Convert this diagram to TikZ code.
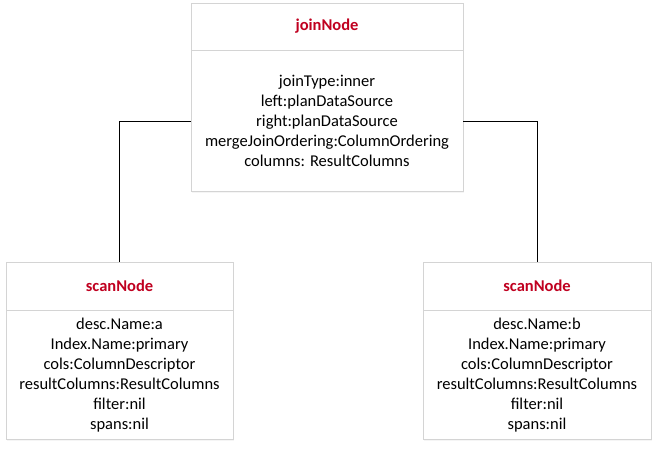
\documentclass[tikz,border=0pt]{standalone}
\usepackage{fontspec}
\setmainfont{Carlito}
\usetikzlibrary{positioning,shadows}
\definecolor{titlered}{HTML}{C00020}
\definecolor{boxgray}{HTML}{D4D4D4}
\tikzset{
  part/.style={draw=boxgray,line width=0.8pt,fill=white,inner sep=0pt,
    drop shadow={shadow xshift=0.8pt,shadow yshift=-1.2pt,fill=black!8},
    font=\fontsize{16.5}{20}\selectfont,align=center},
  head/.style={part,text=titlered,font=\fontsize{16.5}{20}\selectfont\bfseries},
}
\begin{document}
\begin{tikzpicture}[x=1pt,y=1pt,>=latex]
                \useasboundingbox (0,0) rectangle (658,448);
                \node[head,minimum width=272pt,minimum height=47pt] (joinHead) at (327,421.5) {joinNode};
                \node[part,minimum width=272pt,minimum height=141pt,below=0pt of joinHead] (joinBody)
                    {joinType:inner\\left:planDataSource\\right:planDataSource\\mergeJoinOrdering:ColumnOrdering\\columns: ResultColumns};
                \node[head,minimum width=227pt,minimum height=48pt] (scanHeadA) at (119.5,162) {scanNode};
                \node[part,minimum width=227pt,minimum height=129pt,below=0pt of scanHeadA] (scanBodyA)
                    {desc.Name:a\\Index.Name:primary\\cols:ColumnDescriptor\\resultColumns:ResultColumns\\filter:nil\\spans:nil};
                \node[head,minimum width=228pt,minimum height=48pt] (scanHeadB) at (537,162) {scanNode};
                \node[part,minimum width=228pt,minimum height=129pt,below=0pt of scanHeadB] (scanBodyB)
                    {desc.Name:b\\Index.Name:primary\\cols:ColumnDescriptor\\resultColumns:ResultColumns\\filter:nil\\spans:nil};
                \draw[line width=1pt] (joinBody.west) -| (scanHeadA.north);
                \draw[line width=1pt] (joinBody.east) -| (scanHeadB.north);
            \end{tikzpicture}
\end{document}
